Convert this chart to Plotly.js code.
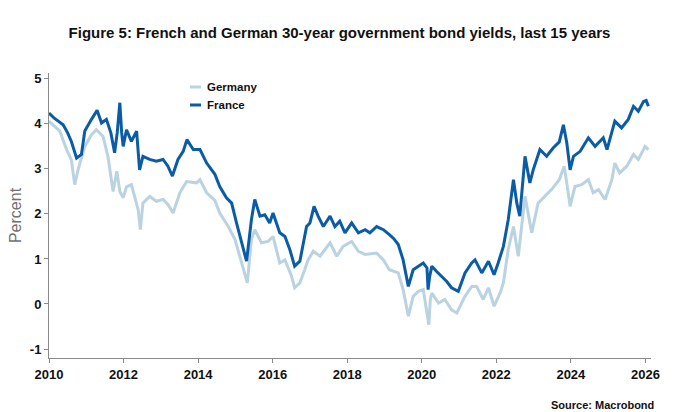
<!DOCTYPE html>
<html>
<head>
<meta charset="utf-8">
<script src="https://cdn.plot.ly/plotly-3.0.1.min.js"></script>
<style>
  html, body { margin: 0; padding: 0; background: #ffffff; }
  #chart { width: 700px; height: 412px; }
</style>
</head>
<body>
<div id="chart"></div>
<script>
// ---- Data (decimal years, percent) ----
const franceYears = [
  2010.00, 2010.15, 2010.38, 2010.50, 2010.60, 2010.74, 2010.87, 2010.96, 2011.14, 2011.29,
  2011.41, 2011.54, 2011.66, 2011.76, 2011.83, 2011.90, 2011.95, 2011.99, 2012.08, 2012.21,
  2012.35, 2012.43, 2012.52, 2012.70, 2012.88, 2013.06, 2013.19, 2013.31, 2013.46, 2013.60,
  2013.70, 2013.87, 2014.05, 2014.23, 2014.45, 2014.58, 2014.76, 2014.90, 2015.03, 2015.17,
  2015.30, 2015.43, 2015.52, 2015.66, 2015.79, 2015.92, 2016.01, 2016.19, 2016.33, 2016.46,
  2016.59, 2016.73, 2016.82, 2016.91, 2017.00, 2017.11, 2017.22, 2017.36, 2017.54, 2017.67,
  2017.80, 2017.94, 2018.12, 2018.30, 2018.48, 2018.61, 2018.79, 2018.97, 2019.13, 2019.25,
  2019.37, 2019.50, 2019.64, 2019.77, 2019.91, 2020.04, 2020.14, 2020.17, 2020.21, 2020.27,
  2020.40, 2020.53, 2020.67, 2020.80, 2020.98, 2021.16, 2021.34, 2021.43, 2021.61, 2021.79,
  2021.94, 2022.05, 2022.19, 2022.32, 2022.46, 2022.55, 2022.63, 2022.77, 2022.90, 2022.99,
  2023.17, 2023.35, 2023.53, 2023.69, 2023.80, 2023.89, 2023.98, 2024.07, 2024.25, 2024.47,
  2024.65, 2024.87, 2024.97, 2025.18, 2025.36, 2025.54, 2025.68, 2025.81, 2025.95, 2026.02,
  2026.08
];
const franceYield = [
  4.24, 4.12, 3.98, 3.80, 3.61, 3.24, 3.32, 3.84, 4.10, 4.30,
  4.02, 4.10, 3.80, 3.36, 3.80, 4.47, 3.80, 3.50, 3.87, 3.61,
  3.84, 2.98, 3.28, 3.21, 3.17, 3.21, 3.06, 2.84, 3.21, 3.39,
  3.65, 3.43, 3.43, 3.13, 2.88, 2.61, 2.36, 2.24, 1.80, 1.36,
  0.95, 1.87, 2.32, 1.95, 1.98, 1.80, 2.02, 1.58, 1.50, 1.21,
  0.84, 0.95, 1.36, 1.72, 1.80, 2.17, 1.95, 1.72, 1.95, 1.72,
  1.84, 1.58, 1.80, 1.58, 1.65, 1.58, 1.72, 1.65, 1.54, 1.45,
  1.32, 0.98, 0.39, 0.76, 0.84, 0.91, 0.80, 0.32, 0.60, 0.84,
  0.72, 0.61, 0.50, 0.36, 0.28, 0.69, 0.91, 0.98, 0.69, 0.95,
  0.65, 0.91, 1.28, 1.87, 2.76, 2.24, 1.95, 3.28, 2.69, 2.98,
  3.43, 3.28, 3.47, 3.60, 3.98, 3.58, 2.98, 3.28, 3.39, 3.69,
  3.50, 3.69, 3.43, 4.06, 3.91, 4.10, 4.39, 4.28, 4.50, 4.52,
  4.39
];

const germanyYears = [
  2010.00, 2010.15, 2010.29, 2010.47, 2010.60, 2010.69, 2010.78, 2010.96, 2011.14, 2011.27,
  2011.45, 2011.58, 2011.72, 2011.82, 2011.90, 2011.99, 2012.08, 2012.21, 2012.30, 2012.39,
  2012.45, 2012.52, 2012.70, 2012.88, 2013.06, 2013.20, 2013.33, 2013.51, 2013.69, 2013.96,
  2014.05, 2014.23, 2014.45, 2014.58, 2014.81, 2014.99, 2015.17, 2015.32, 2015.43, 2015.52,
  2015.70, 2015.88, 2016.01, 2016.19, 2016.33, 2016.51, 2016.59, 2016.73, 2016.86, 2016.95,
  2017.09, 2017.27, 2017.54, 2017.72, 2017.89, 2018.12, 2018.30, 2018.48, 2018.79, 2018.97,
  2019.13, 2019.37, 2019.50, 2019.64, 2019.77, 2019.91, 2020.04, 2020.19, 2020.23, 2020.27,
  2020.45, 2020.62, 2020.80, 2020.94, 2021.16, 2021.34, 2021.47, 2021.65, 2021.79, 2021.94,
  2022.10, 2022.19, 2022.32, 2022.46, 2022.59, 2022.77, 2022.95, 2023.12, 2023.30, 2023.48,
  2023.69, 2023.82, 2023.89, 2023.98, 2024.11, 2024.29, 2024.47, 2024.60, 2024.74, 2024.92,
  2025.10, 2025.18, 2025.31, 2025.50, 2025.68, 2025.81, 2025.99, 2026.08
];
const germanyYield = [
  4.06, 3.95, 3.84, 3.43, 3.20, 2.65, 2.98, 3.50, 3.76, 3.87,
  3.72, 3.28, 2.50, 2.95, 2.50, 2.36, 2.60, 2.65, 2.40, 2.10,
  1.65, 2.24, 2.39, 2.28, 2.32, 2.20, 2.02, 2.47, 2.72, 2.69,
  2.76, 2.47, 2.30, 2.02, 1.72, 1.43, 0.91, 0.47, 1.43, 1.65,
  1.36, 1.39, 1.50, 0.91, 0.98, 0.61, 0.36, 0.47, 0.76, 0.98,
  1.17, 1.06, 1.36, 1.06, 1.28, 1.39, 1.17, 1.10, 1.13, 0.98,
  0.76, 0.69, 0.32, -0.27, 0.17, 0.28, 0.32, -0.46, 0.10, 0.24,
  0.02, 0.10, -0.13, -0.20, 0.17, 0.39, 0.39, 0.10, 0.36, -0.05,
  0.24, 0.47, 1.21, 1.72, 1.06, 2.39, 1.58, 2.24, 2.39, 2.54,
  2.76, 3.06, 2.69, 2.17, 2.61, 2.65, 2.76, 2.47, 2.54, 2.32,
  2.76, 3.13, 2.91, 3.06, 3.32, 3.21, 3.50, 3.43
];

const seriesNames = ["Germany", "France"];
const xTickVals = [2010, 2012, 2014, 2016, 2018, 2020, 2022, 2024, 2026];
const yTickVals = [-1, 0, 1, 2, 3, 4, 5];

const germanyColor = "#b9d3e1";
const franceColor = "#0a5ca6";

// ---- Layout geometry ----
const W = 700, H = 412;
const M = { l: 49, r: 49, t: 73, b: 54 };
const plotW = W - M.l - M.r, plotH = H - M.t - M.b;
const px2paperX = px => (px - M.l) / plotW;
const px2paperY = py => (H - M.b - py) / plotH;

const traces = [
  { x: germanyYears, y: germanyYield, name: seriesNames[0], type: "scatter", mode: "lines",
    line: { color: germanyColor, width: 3 }, showlegend: false, hoverinfo: "skip" },
  { x: franceYears, y: franceYield, name: seriesNames[1], type: "scatter", mode: "lines",
    line: { color: franceColor, width: 3 }, showlegend: false, hoverinfo: "skip" }
];

const boldFont = { family: "Liberation Sans, Arial, sans-serif", color: "#111111", weight: "bold" };

const layout = {
  width: W, height: H,
  margin: M,
  paper_bgcolor: "#ffffff", plot_bgcolor: "#ffffff",
  title: {
    text: "Figure 5: French and German 30-year government bond yields, last 15 years",
    font: Object.assign({}, boldFont, { size: 15 }),
    x: 0.485, xanchor: "center", y: 1 - 33 / H, yanchor: "middle"
  },
  xaxis: {
    range: [2010, 2026.15],
    tickvals: xTickVals, ticktext: xTickVals.map(String),
    showgrid: false, zeroline: false,
    showline: true, linecolor: "#8a8a8a", linewidth: 1,
    ticks: "outside", ticklen: 4, tickcolor: "#8a8a8a",
    tickfont: Object.assign({}, boldFont, { size: 13 }),
    fixedrange: true
  },
  yaxis: {
    range: [-1.2, 5.13],
    tickvals: yTickVals, ticktext: yTickVals.map(String),
    showgrid: false, zeroline: false,
    showline: true, linecolor: "#8a8a8a", linewidth: 1,
    ticks: "outside", ticklen: 4, tickcolor: "#8a8a8a",
    tickfont: Object.assign({}, boldFont, { size: 13 }),
    title: { text: "Percent", font: { family: "Liberation Sans, Arial, sans-serif", size: 16, color: "#707070" }, standoff: 4 },
    fixedrange: true
  },
  shapes: [
    { type: "line", xref: "paper", yref: "paper",
      x0: px2paperX(190), x1: px2paperX(201), y0: px2paperY(87), y1: px2paperY(87),
      line: { color: germanyColor, width: 3 } },
    { type: "line", xref: "paper", yref: "paper",
      x0: px2paperX(190), x1: px2paperX(201), y0: px2paperY(105), y1: px2paperY(105),
      line: { color: franceColor, width: 3 } }
  ],
  annotations: [
    { xref: "paper", yref: "paper", x: px2paperX(205), y: px2paperY(87), xanchor: "left", yanchor: "middle",
      text: seriesNames[0], showarrow: false, font: Object.assign({}, boldFont, { size: 11.5 }) },
    { xref: "paper", yref: "paper", x: px2paperX(205), y: px2paperY(105), xanchor: "left", yanchor: "middle",
      text: seriesNames[1], showarrow: false, font: Object.assign({}, boldFont, { size: 11.5 }) },
    { xref: "paper", yref: "paper", x: px2paperX(656), y: px2paperY(405), xanchor: "right", yanchor: "middle",
      text: "Source: Macrobond", showarrow: false, font: Object.assign({}, boldFont, { size: 11 }) }
  ]
};

Plotly.newPlot("chart", traces, layout, { displayModeBar: false, staticPlot: true });
</script>
</body>
</html>
